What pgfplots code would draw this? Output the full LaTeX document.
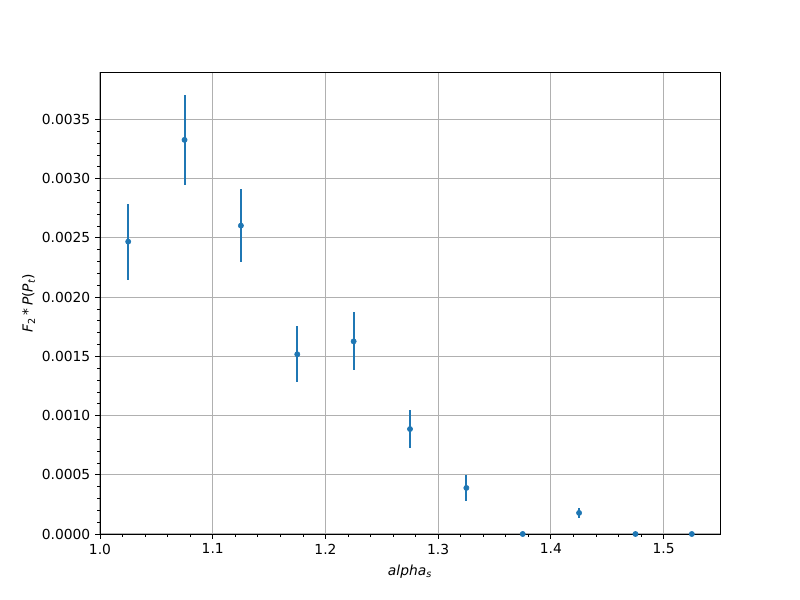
\documentclass[border=0pt]{standalone}
\usepackage{pgfplots}
\pgfplotsset{compat=1.18}
\usepackage{fontspec}
\setmainfont{DejaVu Sans}
\definecolor{mplblue}{HTML}{1F77B4}
\definecolor{gridgray}{HTML}{B0B0B0}
\begin{document}
\fontsize{10pt}{12pt}\selectfont
\begin{tikzpicture}
\path[use as bounding box] (-1in,-0.66in) rectangle (7in,5.34in);
\begin{axis}[
  at={(0,0)}, anchor=south west,
  scale only axis,
  width=6.2in, height=4.62in,
  xmin=1.0, xmax=1.55,
  ymin=0, ymax=0.0039,
  xtick={1.0,1.1,1.2,1.3,1.4,1.5},
  minor x tick num=4,
  ytick={0,0.0005,0.001,0.0015,0.002,0.0025,0.003,0.0035},
  minor y tick num=4,
  scaled y ticks=false,
  scaled x ticks=false,
  xticklabel style={/pgf/number format/.cd, fixed, fixed zerofill, precision=1, assume math mode=true},
  yticklabel style={/pgf/number format/.cd, fixed, fixed zerofill, precision=4, assume math mode=true},
  tick label style={font=\fontsize{10pt}{12pt}\selectfont},
  tick align=outside,
  major tick length=3.5pt,
  minor tick length=2pt,
  tick style={black, line width=0.7pt},
  minor tick style={black, line width=0.5pt},
  xtick pos=bottom, ytick pos=left,
  axis line style={line width=0.6pt},
  grid=major,
  major grid style={gridgray, line width=0.8pt},
  xlabel={\textit{alpha}\textsubscript{\textit{s}}},
  ylabel={\textit{F}\textsubscript{2}\,*\,\textit{P}(\textit{P}\textsubscript{\textit{t}})},
  label style={font=\fontsize{10pt}{12pt}\selectfont},
  xlabel style={yshift=-1pt},
  ylabel style={yshift=-2pt},
]
\addplot[
  mplblue, only marks, mark=*, mark size=1.9pt,
  mark options={draw=mplblue, fill=mplblue},
  error bars/.cd, y dir=both, y explicit,
  error bar style={line width=1.5pt, mplblue},
  error mark=none,
] coordinates {
  (1.025, 0.002468) +- (0, 0.00032)
  (1.075, 0.003327) +- (0, 0.00038)
  (1.125, 0.002603) +- (0, 0.00031)
  (1.175, 0.001517) +- (0, 0.000235)
  (1.225, 0.001626) +- (0, 0.000245)
  (1.275, 0.000886) +- (0, 0.00016)
  (1.325, 0.000389) +- (0, 0.00011)
  (1.375, 0.0) +- (0, 0.0)
  (1.425, 0.000178) +- (0, 0.000045)
  (1.475, 0.0) +- (0, 0.0)
  (1.525, 0.0) +- (0, 0.0)
};
\end{axis}
\end{tikzpicture}
\end{document}
